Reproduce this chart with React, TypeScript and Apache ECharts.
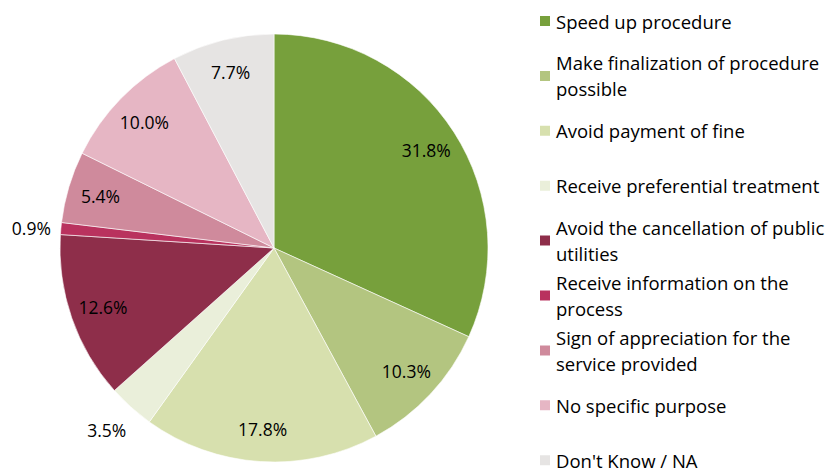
import React, { useEffect, useRef } from "react";
import * as echarts from "echarts";

const categories = [
  "Speed up procedure",
  "Make finalization of procedure possible",
  "Avoid payment of fine",
  "Receive preferential treatment",
  "Avoid the cancellation of public utilities",
  "Receive information on the process",
  "Sign of appreciation for the service provided",
  "No specific purpose",
  "Don't Know / NA",
];
const legendLabels = [
  "Speed up procedure",
  "Make finalization of procedure\npossible",
  "Avoid payment of fine",
  "Receive preferential treatment",
  "Avoid the cancellation of public\nutilities",
  "Receive information on the\nprocess",
  "Sign of appreciation for the\nservice provided",
  "No specific purpose",
  "Don't Know / NA",
];
const values = [31.8, 10.3, 17.8, 3.5, 12.6, 0.9, 5.4, 10.0, 7.7];
const colors = [
  "#77A03C",
  "#B3C580",
  "#D7E0AE",
  "#EAEFDA",
  "#8E2E4A",
  "#B9325E",
  "#CF8A9C",
  "#E6B6C4",
  "#E6E4E3",
];
const outsideLabels = ["Receive preferential treatment", "Receive information on the process"];

const FONT = "Open Sans";
const FS = 17.5;
const LEGEND_FS = 18.5;

export default function App() {
  const ref = useRef<HTMLDivElement>(null);
  useEffect(() => {
    if (!ref.current) return;
    const chart = echarts.init(ref.current, null, { renderer: "svg" });
    const labelMap: Record<string, string> = {};
    categories.forEach((c, i) => (labelMap[c] = legendLabels[i]));
    const H = 84;
    const d = 3;
    const option: any = {
      animation: false,
      backgroundColor: "#fff",
      legend: {
        orient: "vertical",
        left: 538,
        top: -21,
        height: 800,
        padding: 0,
        itemWidth: 12,
        itemHeight: 12,
        itemGap: 54.9 - H,
        icon: "rect",
        selectedMode: false,
        formatter: (name: string) => labelMap[name],
        data: categories.map((c, i) => {
          const two = legendLabels[i].includes("\n");
          const pt = H / 2 + d - 13;
          const pb = two ? H / 2 - 39 - d : H / 2 - 13 - d;
          return {
            name: c,
            itemStyle: { color: colors[i] },
            textStyle: {
              fontFamily: FONT,
              fontSize: LEGEND_FS,
              color: "#000",
              lineHeight: 26,
              padding: [pt, 0, pb, 0],
            },
          };
        }),
      },
      series: [
        {
          type: "pie",
          center: [274, 248],
          radius: 214,
          startAngle: 90,
          clockwise: true,
          avoidLabelOverlap: false,
          label: { show: false },
          labelLine: { show: false },
          itemStyle: { borderColor: "#fff", borderWidth: 0.6 },
          emphasis: { disabled: true },
          data: categories.map((c, i) => ({
            name: c,
            value: values[i],
            itemStyle: { color: colors[i] },
          })),
        },
        {
          type: "pie",
          center: [274, 248],
          radius: [142, 214],
          startAngle: 90,
          clockwise: true,
          silent: true,
          avoidLabelOverlap: false,
          itemStyle: { color: "rgba(0,0,0,0)" },
          emphasis: { disabled: true },
          label: {
            show: true,
            position: "inside",
            fontFamily: FONT,
            fontSize: FS,
            color: "#000",
            formatter: (p: any) => p.value.toFixed(1) + "%",
          },
          labelLine: { show: false },
          data: categories.map((c, i) => {
            const out = outsideLabels.includes(c);
            const first = c === outsideLabels[0];
            return {
              name: c,
              value: values[i],
              label: out ? { position: "outside", alignTo: "none" } : undefined,
              labelLine: out
                ? { show: false, length: first ? 31 : 5, length2: first ? -21 : 0 }
                : undefined,
            };
          }),
        },
      ],
    };
    chart.setOption(option);
    return () => chart.dispose();
  }, []);
  return (
    <div
      ref={ref}
      style={{ position: "fixed", left: 0, top: 0, width: 829, height: 473 }}
    />
  );
}
